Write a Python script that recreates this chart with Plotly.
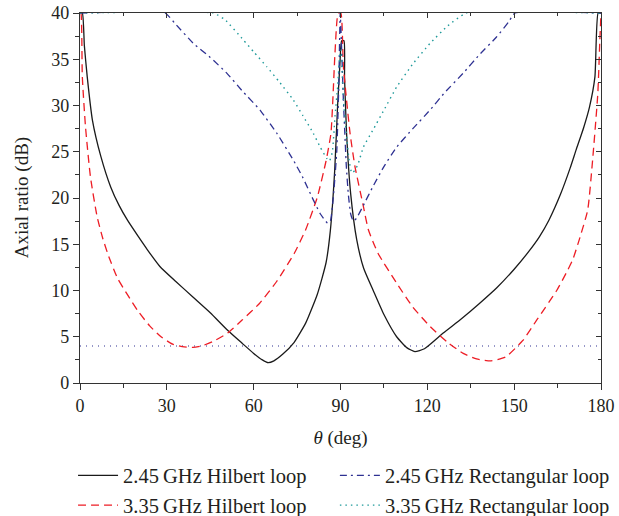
import plotly.graph_objects as go

# ---- data ----
theta_hil_245 = [0, 0.8, 1.5, 2.5, 4.3, 7.2, 10.6, 13.5, 16.4, 20, 23.3, 27.6, 33, 39, 45, 51, 56, 60, 63, 65, 67,
                 70, 74, 78, 82, 85, 86.5, 88, 89, 89.8, 90.4, 91.2, 91.4, 92.1, 93.5, 95.6, 98,
                 101.3, 105, 109.4, 113, 115.7, 119, 125.5, 132, 138, 144, 150, 155, 158.7, 162,
                 166, 169.3, 171.4, 174, 176, 177.9, 179, 180]
ar_hil_245 = [40, 40, 36.5, 33.1, 28.4, 24.5, 21.2, 19.2, 17.6, 15.9, 14.4, 12.6, 11, 9.3, 7.6, 5.7, 4.3, 3.2, 2.5, 2.2, 2.4,
              3.1, 4.4, 6.5, 9.6, 13, 16.5, 23, 30, 34.5, 37, 37, 33, 27, 20.5, 15.5, 12.4,
              10, 7.4, 5.0, 3.8, 3.4, 3.7, 5.4, 7.0, 8.6, 10.3, 12.3, 14.2, 15.8, 17.6,
              20.4, 23.2, 25.2, 27.6, 29.8, 33.1, 40, 40]

theta_hil_335 = [0, 0.3, 0.8, 1.9, 3.6, 5.9, 7.9, 9.9, 13, 16.5, 20, 24, 28, 32, 36, 39, 42, 46, 51, 56, 62,
                 68, 74, 78, 82, 85, 86.7, 88.1, 89.2, 90.1, 91, 93.3, 95, 97.9, 99.6, 103, 109.4,
                 115, 121, 127, 132.4, 137, 142, 147, 153, 158, 164.7, 168, 170.2, 172.5, 175.4,
                 177.1, 178.9, 179.6, 180]
ar_hil_335 = [40, 40, 33.1, 27.7, 22.3, 18, 15.6, 13.7, 11.3, 9.5, 7.8, 6.2, 5.0, 4.2, 3.9, 3.85, 4.0, 4.5, 5.4, 6.8, 8.6,
              11, 14, 16.6, 20.1, 24, 27, 35.7, 40, 40, 34.2, 27, 23.4, 19.1, 16.6, 14, 10.8,
              8.2, 6.1, 4.4, 3.2, 2.6, 2.4, 2.8, 4.6, 6.9, 10, 11.9, 13.3, 15.5, 18.7,
              24.1, 31.3, 37, 40]

theta_rect_245 = [0, 29.4, 33, 39.2, 45, 50.7, 56, 62.2, 68, 73.7, 77, 80.6, 83, 85.5, 86.5, 87.5,
                  88.7, 89.4, 89.9, 90.3, 91, 92, 92.7, 93.5, 94.4, 95.5, 97.9, 101.3, 105, 109.4,
                  115, 120.9, 126, 132.4, 138, 143.9, 148, 150.3, 180]
ar_rect_245 = [40, 40, 38.8, 36.7, 35.2, 33.5, 31.6, 29.5, 27, 24.1, 22.2, 19.8, 18.3, 17.3, 17.5, 20,
               25, 32, 40, 37, 30.6, 23.5, 20.4, 18.3, 17.5, 17.8, 19.2, 21.3, 23.4, 25.5,
               27.5, 29.5, 31.4, 33.5, 35.5, 37.4, 39, 40, 40]

theta_rect_335 = [0, 46, 50, 56.4, 60, 64.5, 69, 73.7, 77, 80.6, 83, 85.2, 86.2, 87.2, 88.1, 89,
                  89.8, 90.2, 90.5, 91, 92, 93, 93.9, 95, 96.1, 97.9, 101.3, 105, 109.4, 115,
                  120.9, 127, 133.5, 180]
ar_rect_335 = [40, 40, 39.3, 37.1, 35.8, 34.2, 32.5, 30.6, 28.9, 27, 25.5, 24.3, 24, 25, 28.8, 32,
               35.6, 36, 34, 30.6, 27, 24, 22.7, 23, 23.7, 25.5, 27.4, 29.5, 32, 34.5,
               36.7, 38.6, 40, 40]

threshold_theta = [0, 180]
threshold_ar = [4, 4]

x_ticks = [0, 30, 60, 90, 120, 150, 180]
y_ticks = [0, 5, 10, 15, 20, 25, 30, 35, 40]

names = ["2.45\u2009GHz Hilbert loop", "2.45\u2009GHz Rectangular loop",
         "3.35\u2009GHz Hilbert loop", "3.35\u2009GHz Rectangular loop"]
y_title = "Axial ratio (dB)"
x_title = "<i>θ</i> (deg)"

FONT = "Liberation Serif"
fig = go.Figure()
fig.add_trace(go.Scatter(x=threshold_theta, y=threshold_ar, mode="lines", showlegend=False,
                         line=dict(color="#2e3192", width=1.2, dash="1px,5px")))
fig.add_trace(go.Scatter(x=theta_hil_245, y=ar_hil_245, mode="lines", name=names[0],
                         legend="legend",
                         line=dict(color="#1a1a1a", width=1.3, shape="spline", smoothing=0.5)))
fig.add_trace(go.Scatter(x=theta_hil_335, y=ar_hil_335, mode="lines", name=names[2],
                         legend="legend",
                         line=dict(color="#ed1c24", width=1.3, dash="8px,5px",
                                   shape="spline", smoothing=0.5)))
fig.add_trace(go.Scatter(x=theta_rect_245, y=ar_rect_245, mode="lines", name=names[1],
                         legend="legend2",
                         line=dict(color="#2e3192", width=1.3, dash="7px,4px,2px,4px",
                                   shape="spline", smoothing=0.4)))
fig.add_trace(go.Scatter(x=theta_rect_335, y=ar_rect_335, mode="lines", name=names[3],
                         legend="legend2",
                         line=dict(color="#1f9a9a", width=1.4, dash="1.5px,4px",
                                   shape="spline", smoothing=0.4)))
# invisible trace to activate mirrored top/right axes
fig.add_trace(go.Scatter(x=[None], y=[None], xaxis="x2", yaxis="y2", showlegend=False,
                         hoverinfo="skip"))

axcol = "#333333"
leg_common = dict(orientation="v", xref="container", yref="container", y=0.117,
                  xanchor="left", yanchor="top", itemwidth=40,
                  font=dict(size=20.5, family=FONT), bgcolor="rgba(0,0,0,0)",
                  tracegroupgap=0, traceorder="normal")
fig.update_layout(
    width=619, height=516,
    margin=dict(l=80, r=18, t=13, b=133, autoexpand=False),
    paper_bgcolor="white", plot_bgcolor="white",
    font=dict(family=FONT, size=18, color="#231f20"),
    xaxis=dict(range=[0, 180], tickvals=x_ticks, ticks="outside", ticklen=6, tickwidth=1.2,
               tickcolor=axcol, showline=True, linecolor=axcol, linewidth=1.2,
               showgrid=False, zeroline=False,
               minor=dict(dtick=15, ticks="outside", ticklen=4, tickcolor=axcol, tickwidth=1.2),
               title=dict(text=x_title, font=dict(size=19))),
    yaxis=dict(range=[0, 40], tickvals=y_ticks, ticks="outside", ticklen=6, tickwidth=1.2,
               tickcolor=axcol, showline=True, linecolor=axcol, linewidth=1.2,
               showgrid=False, zeroline=False,
               minor=dict(dtick=2.5, ticks="outside", ticklen=4, tickcolor=axcol, tickwidth=1.2)),
    xaxis2=dict(range=[0, 180], overlaying="x", side="top", tickvals=x_ticks, ticks="inside",
                ticklen=5, tickcolor=axcol, showticklabels=False, showline=True,
                linecolor=axcol, linewidth=1.2, showgrid=False, zeroline=False,
                minor=dict(dtick=15, ticks="inside", ticklen=3, tickcolor=axcol)),
    yaxis2=dict(range=[0, 40], overlaying="y", side="right", tickvals=y_ticks, ticks="inside",
                ticklen=5, tickcolor=axcol, showticklabels=False, showline=True,
                linecolor=axcol, linewidth=1.2, showgrid=False, zeroline=False,
                minor=dict(dtick=2.5, ticks="inside", ticklen=3, tickcolor=axcol)),
    legend=dict(x=0.118, **leg_common),
    legend2=dict(x=0.541, **leg_common),
    annotations=[dict(text=y_title, xref="paper", yref="paper", x=-0.111, y=0.5,
                      xanchor="center", yanchor="middle", textangle=-90, showarrow=False,
                      font=dict(size=19, family=FONT, color="#231f20"))],
)

fig.write_html("out.html")
